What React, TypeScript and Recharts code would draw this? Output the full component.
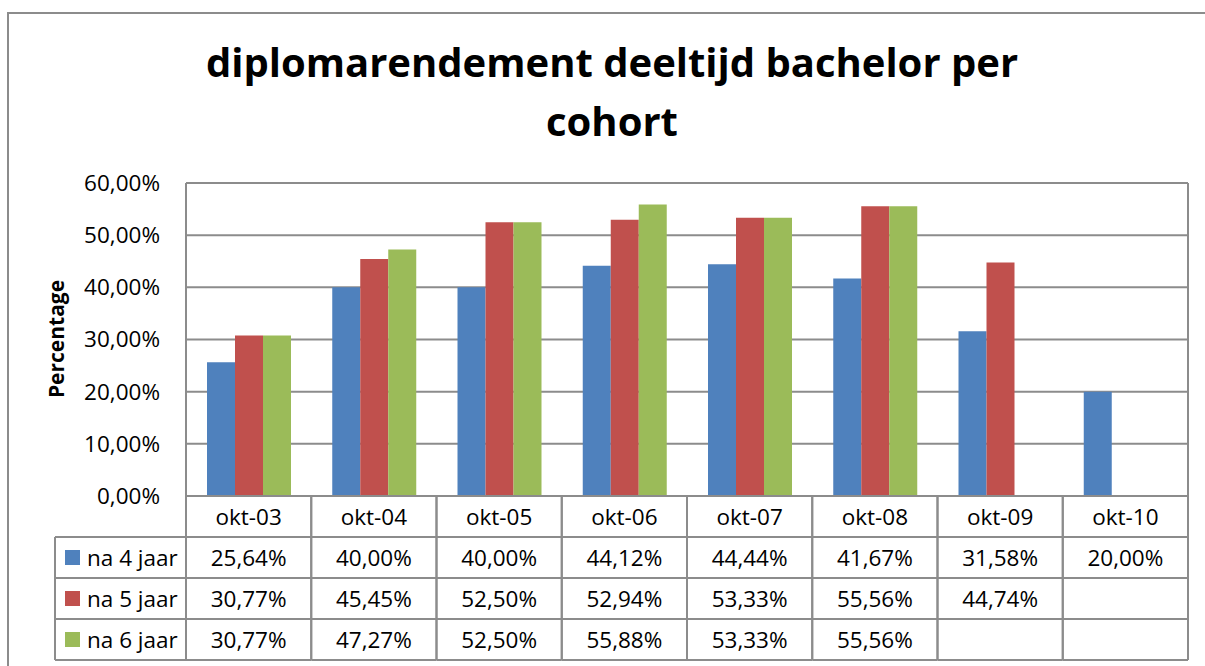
import { BarChart, Bar, XAxis, YAxis, CartesianGrid } from "recharts"

const CATEGORIES = ["okt-03", "okt-04", "okt-05", "okt-06", "okt-07", "okt-08", "okt-09", "okt-10"]
const NA_4_JAAR = [25.64, 40.0, 40.0, 44.12, 44.44, 41.67, 31.58, 20.0]
const NA_5_JAAR = [30.77, 45.45, 52.5, 52.94, 53.33, 55.56, 44.74, null]
const NA_6_JAAR = [30.77, 47.27, 52.5, 55.88, 53.33, 55.56, null, null]
const SERIES_NAMES = ["na 4 jaar", "na 5 jaar", "na 6 jaar"]
const SERIES_KEYS = ["na4", "na5", "na6"]
const COLORS = ["#4F81BD", "#C0504D", "#9BBB59"]
const Y_TICKS = [0, 10, 20, 30, 40, 50, 60]

const TITLE = ["diplomarendement deeltijd bachelor per", "cohort"]
const Y_LABEL = "Percentage"

const W = 1205
const H = 666
const MARGIN = { top: 183, right: 17, bottom: 6, left: 0 }
const Y_AXIS_W = 186
const TABLE_ROW = 41
const X_AXIS_H = TABLE_ROW * 4
const LEGEND_LEFT = 55
const BAND = (W - MARGIN.left - MARGIN.right - Y_AXIS_W) / CATEGORIES.length

const FONT = '"Open Sans", "Noto Sans", sans-serif'
const LINE = "#8c8c8c"
const TXT = 22.5

const data = CATEGORIES.map((cat, i) => ({
  cat,
  na4: NA_4_JAAR[i],
  na5: NA_5_JAAR[i],
  na6: NA_6_JAAR[i],
}))

const fmt = (v: number | null) => (v == null ? "" : v.toFixed(2).replace(".", ",") + "%")

// one column of the data table under each category
function TableColumn(props: any) {
  const { x, y, payload, index } = props
  const i = payload?.index ?? index
  const row = data[i]
  const left = x - BAND / 2
  const right = x + BAND / 2
  return (
    <g>
      <line x1={left} x2={left} y1={y} y2={y + X_AXIS_H} stroke={LINE} strokeWidth={2} />
      <line x1={right} x2={right} y1={y} y2={y + X_AXIS_H} stroke={LINE} strokeWidth={2} />
      {[1, 2, 3, 4].map((r) => (
        <line key={r} x1={left} x2={right} y1={y + r * TABLE_ROW} y2={y + r * TABLE_ROW} stroke={LINE} strokeWidth={2} />
      ))}
      <text x={x} y={y + TABLE_ROW / 2} textAnchor="middle" dominantBaseline="central" fontSize={TXT} fill="#000">
        {row.cat}
      </text>
      {SERIES_KEYS.map((k, j) => (
        <text
          key={k}
          x={x}
          y={y + TABLE_ROW * (j + 1) + TABLE_ROW / 2}
          textAnchor="middle"
          dominantBaseline="central"
          fontSize={TXT}
          fill="#000"
        >
          {fmt((row as any)[k])}
        </text>
      ))}
      {i === 0 && (
        <g>
          <line x1={LEGEND_LEFT} x2={LEGEND_LEFT} y1={y + TABLE_ROW} y2={y + X_AXIS_H} stroke={LINE} strokeWidth={2} />
          {[1, 2, 3, 4].map((r) => (
            <line key={r} x1={LEGEND_LEFT} x2={left} y1={y + r * TABLE_ROW} y2={y + r * TABLE_ROW} stroke={LINE} strokeWidth={2} />
          ))}
          {SERIES_NAMES.map((name, j) => {
            const cy = y + TABLE_ROW * (j + 1) + TABLE_ROW / 2
            return (
              <g key={name}>
                <rect x={LEGEND_LEFT + 10} y={cy - 7.5} width={15} height={15} fill={COLORS[j]} />
                <text x={LEGEND_LEFT + 32} y={cy} dominantBaseline="central" fontSize={TXT} fill="#000">
                  {name}
                </text>
              </g>
            )
          })}
        </g>
      )}
    </g>
  )
}

export default function App() {
  return (
    <div style={{ position: "absolute", left: 0, top: 0, width: W, height: H, background: "#fff", fontFamily: FONT, overflow: "hidden" }}>
      <BarChart
        width={W}
        height={H}
        data={data}
        margin={MARGIN}
        barCategoryGap={21}
        barGap={0}
        style={{ fontFamily: FONT }}
      >
        <CartesianGrid
          stroke={LINE}
          strokeWidth={2}
          vertical={true}
          horizontal={true}
          verticalCoordinatesGenerator={({ offset }: any) => [offset.left, offset.left + offset.width]}
        />
        <XAxis
          dataKey="cat"
          height={X_AXIS_H}
          tickSize={0}
          tickMargin={0}
          tickLine={false}
          axisLine={{ stroke: LINE, strokeWidth: 2 }}
          interval={0}
          tick={(p: any) => <TableColumn {...p} />}
        />
        <YAxis
          width={Y_AXIS_W}
          domain={[0, 60]}
          ticks={Y_TICKS}
          tickSize={0}
          tickMargin={26}
          tickLine={false}
          axisLine={{ stroke: LINE, strokeWidth: 2 }}
          tickFormatter={(v: number) => fmt(v)}
          tick={{ fill: "#000", fontSize: TXT, fontFamily: FONT }}
        />
        {SERIES_KEYS.map((k, j) => (
          <Bar key={k} dataKey={k} fill={COLORS[j]} isAnimationActive={false} />
        ))}
      </BarChart>
      <svg width={W} height={H} style={{ position: "absolute", left: 0, top: 0, pointerEvents: "none" }}>
        <rect x={8} y={13} width={W + 50} height={H + 50} fill="none" stroke={LINE} strokeWidth={2} />
        <text x={612} y={77} textAnchor="middle" fontSize={40} fontWeight={700} fontFamily={FONT} fill="#000">
          {TITLE[0]}
        </text>
        <text x={612} y={136} textAnchor="middle" fontSize={40} fontWeight={700} fontFamily={FONT} fill="#000">
          {TITLE[1]}
        </text>
        <text
          x={64}
          y={339}
          transform="rotate(-90 64 339)"
          textAnchor="middle"
          fontSize={21}
          fontWeight={700}
          fontFamily={FONT}
          fill="#000"
        >
          {Y_LABEL}
        </text>
      </svg>
    </div>
  )
}
